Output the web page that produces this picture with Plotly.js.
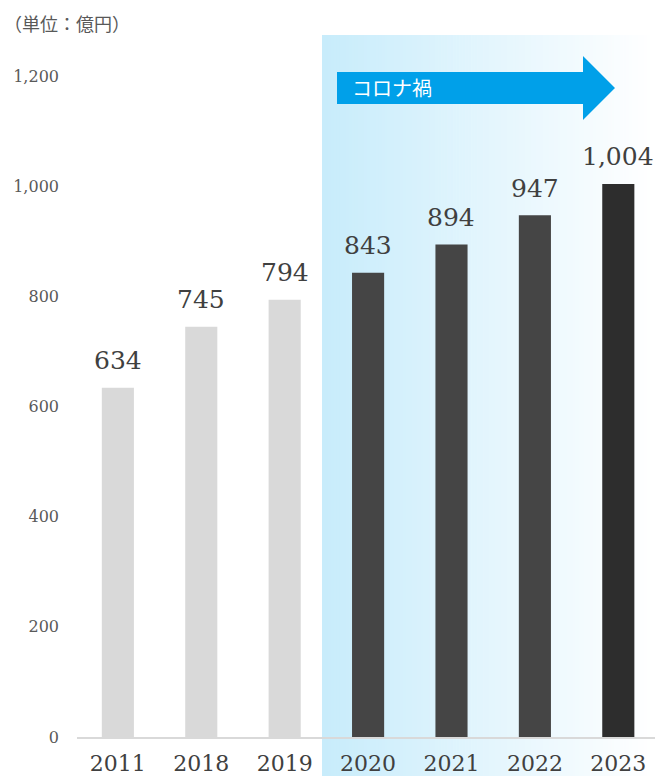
<!DOCTYPE html>
<html>
<head>
<meta charset="utf-8">
<script src="https://cdn.plot.ly/plotly-3.0.1.min.js"></script>
<style>
  html, body { margin: 0; padding: 0; background: #ffffff; }
  #chart { width: 655px; height: 776px; }
</style>
</head>
<body>
<div id="chart"></div>
<script>
// ---- data ----
const years = ['2011', '2018', '2019', '2020', '2021', '2022', '2023'];
const sales = [634, 745, 794, 843, 894, 947, 1004];
const yTicks = [0, 200, 400, 600, 800, 1000, 1200];
const unitLabel = '（単位：億円）';
const covidLabel = 'コロナ禍';

// ---- styles ----
const barColors = ['#d9d9d9', '#d9d9d9', '#d9d9d9', '#454545', '#454545', '#454545', '#2d2d2d'];
const numFont = 'DejaVu Serif';
const jpFont = 'Noto Sans CJK JP';

const W = 655, H = 776;
const M = { l: 77, r: 0, t: 76, b: 39 };
const pw = W - M.l - M.r, ph = H - M.t - M.b;
const px = x => (x - M.l) / pw;          // pixel -> paper x
const py = y => (H - M.b - y) / ph;      // pixel -> paper y

// gradient background (stripes) for the コロナ禍 period
const shapes = [];
const gx0 = 322, gx1 = 656, steps = 112;
const c0 = [200, 236, 251], c1 = [255, 255, 255];
for (let i = 0; i < steps; i++) {
  const t = i / (steps - 1);
  const c = c0.map((v, k) => Math.round(v + (c1[k] - v) * t));
  const a = gx0 + (gx1 - gx0) * i / steps;
  const b = gx0 + (gx1 - gx0) * (i + 1) / steps + 0.6;
  shapes.push({
    type: 'rect', xref: 'paper', yref: 'paper', layer: 'below',
    x0: px(a), x1: px(b), y0: py(H + 5), y1: py(35),
    fillcolor: `rgb(${c[0]},${c[1]},${c[2]})`, line: { width: 0 }
  });
}
// arrow
const arrowPts = [[337, 72], [583, 72], [583, 56], [615, 88], [583, 120], [583, 104], [337, 104]];
shapes.push({
  type: 'path', xref: 'paper', yref: 'paper', layer: 'above',
  path: 'M ' + arrowPts.map(p => px(p[0]).toFixed(5) + ',' + py(p[1]).toFixed(5)).join(' L ') + ' Z',
  fillcolor: '#00a0e9', line: { width: 0 }
});

// value labels: placed through the axes' own scales (category index, value)
const annotations = years.map((yr, i) => ({
  x: i, y: sales[i], xref: 'x', yref: 'y',
  text: sales[i].toLocaleString('en-US'),
  showarrow: false, yanchor: 'middle', xanchor: 'center', yshift: 27,
  font: { family: numFont, size: 25, color: '#404040' }
}));
annotations.push({
  xref: 'paper', yref: 'paper', x: px(2), y: py(23), xanchor: 'left', yanchor: 'middle',
  text: unitLabel, showarrow: false,
  font: { family: jpFont, size: 18, color: '#595959' }
});
annotations.push({
  xref: 'paper', yref: 'paper', x: px(350), y: py(88), xanchor: 'left', yanchor: 'middle',
  text: covidLabel, showarrow: false,
  font: { family: jpFont, size: 20, color: '#ffffff' }
});

const trace = {
  type: 'bar', x: years, y: sales,
  marker: { color: barColors, line: { width: 0 } },
  width: 0.385, hoverinfo: 'skip'
};

const layout = {
  width: W, height: H,
  margin: M,
  paper_bgcolor: '#ffffff', plot_bgcolor: 'rgba(0,0,0,0)',
  showlegend: false,
  xaxis: {
    type: 'category', range: [-0.49, 6.44],
    showline: true, linecolor: '#d9d9d9', linewidth: 2,
    showgrid: false, zeroline: false, ticks: '',
    ticklabelstandoff: 6,
    tickfont: { family: numFont, size: 22, color: '#404040' }
  },
  yaxis: {
    range: [0, 1200], tickvals: yTicks, tickformat: ',',
    showline: false, showgrid: false, zeroline: false, ticks: '',
    ticklabelstandoff: 17,
    tickfont: { family: numFont, size: 16, color: '#595959' }
  },
  shapes: shapes,
  annotations: annotations
};

Plotly.newPlot('chart', [trace], layout, { staticPlot: true, displayModeBar: false });
</script>
</body>
</html>
